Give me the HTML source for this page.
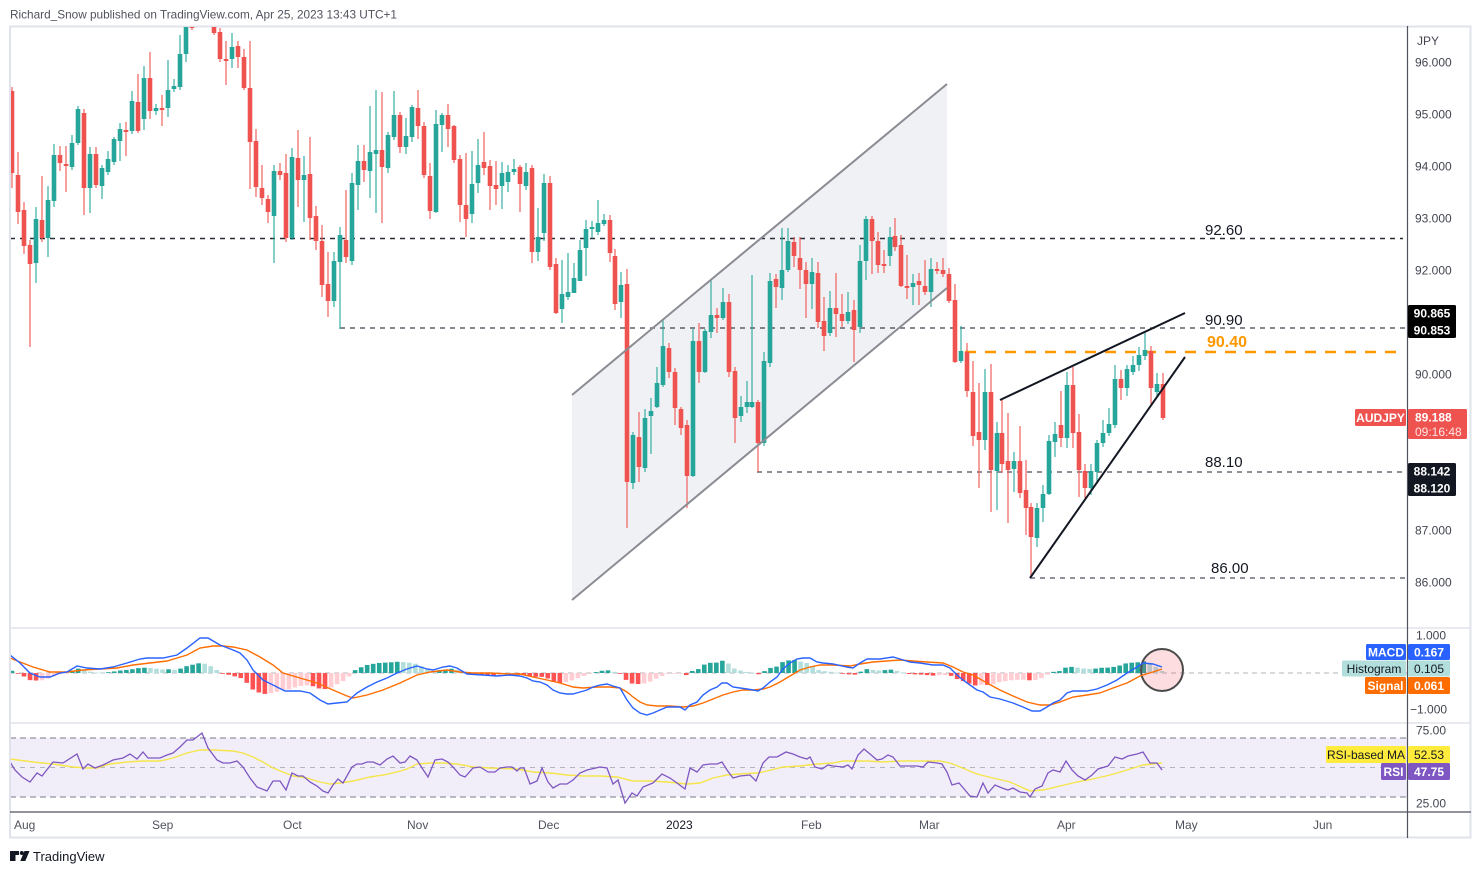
<!DOCTYPE html>
<html><head><meta charset="utf-8"><style>
html,body{margin:0;padding:0;background:#fff;}
svg{display:block;font-family:"Liberation Sans",Arial,sans-serif;}
</style></head><body>
<svg id="s" width="1481" height="874" viewBox="0 0 1481 874" xmlns="http://www.w3.org/2000/svg">
<defs>
<clipPath id="cm"><rect x="11" y="27" width="1396" height="601"/></clipPath>
<clipPath id="cd"><rect x="11" y="629" width="1396" height="94"/></clipPath>
<clipPath id="cr"><rect x="11" y="724" width="1396" height="88"/></clipPath>
</defs>
<rect width="1481" height="874" fill="#fff"/>
<text x="10" y="18.5" font-size="12" fill="#50535e" textLength="387" lengthAdjust="spacingAndGlyphs">Richard_Snow published on TradingView.com, Apr 25, 2023 13:43 UTC+1</text>

<rect x="10" y="26.5" width="1460.5" height="811" fill="none" stroke="#e0e3eb" stroke-width="2"/>
<line x1="10" y1="628" x2="1471" y2="628" stroke="#e0e3eb" stroke-width="1.5"/>
<line x1="10" y1="723" x2="1471" y2="723" stroke="#e0e3eb" stroke-width="1.5"/>

<g clip-path="url(#cm)">
<polygon points="572,395 947,84 947,288 572,600" fill="#f0f1f4"/>
<line x1="10" y1="238.5" x2="1403" y2="238.5" stroke="#2a2e39" stroke-width="1.5" stroke-dasharray="5 5"/>
<line x1="340" y1="328" x2="1405" y2="328" stroke="#5d606b" stroke-width="1.5" stroke-dasharray="5 5"/>
<line x1="757" y1="472" x2="1405" y2="472" stroke="#6a6d78" stroke-width="1.5" stroke-dasharray="5 5"/>
<line x1="1030" y1="578" x2="1405" y2="578" stroke="#6a6d78" stroke-width="1.5" stroke-dasharray="5 5"/>
<line x1="965" y1="352" x2="1405" y2="352" stroke="#ff9800" stroke-width="2.5" stroke-dasharray="11 9"/>

<path fill="none" stroke="#26a69a" stroke-width="1.1" d="M36 207V283 M48 186V257 M54 144V207 M72 135V170 M78 106V145 M90 147V213 M102 165V199 M108 151V175 M114 137V165 M120 123V161 M132 91V134 M144 66V130 M156 104V115 M168 60V117 M174 79V92 M180 35V90 M186 10V62 M232 33V68 M274 165V263 M292 148V240 M304 156V222 M334 252V307 M340 227V329 M352 173V265 M358 145V210 M370 106V198 M376 90V213 M388 132V173 M394 91V140 M406 118V154 M412 105V142 M436 110V213 M442 113V152 M472 151V223 M478 139V193 M502 162V209 M508 165V192 M514 159V175 M526 163V190 M538 208V261 M544 174V241 M562 260V323 M568 253V300 M574 263V289 M580 240V276 M586 220V276 M592 221V238 M598 200V235 M604 214V226 M621 272V318 M633 432V489 M645 409V472 M651 398V454 M657 367V408 M663 319V387 M693 329V477 M705 329V373 M711 280V338 M723 288V320 M741 396V422 M747 381V413 M752 275V408 M764 352V446 M770 273V367 M782 228V300 M788 228V272 M812 258V309 M830 291V336 M848 292V324 M860 245V333 M866 216V280 M890 227V266 M913 274V305 M931 258V307 M961 326V363 M985 369V450 M997 422V510 M1014 452V492 M1037 503V547 M1043 485V522 M1049 435V495 M1055 422V457 M1067 372V448 M1091 464V495 M1097 440V483 M1103 420V447 M1109 408V436 M1115 365V428 M1127 365V396 M1133 356V375 M1139 347V371 M1145 333V360 M1157 373V398"/>
<path fill="none" stroke="#26a69a" stroke-width="4.6" d="M36 263V219 M48 238V200 M54 201V155 M72 167V143 M78 143V109 M90 188V154 M102 186V168 M108 172V159 M114 162V139 M120 141V129 M132 131V101 M144 119V78 M156 111V108 M168 108V90 M174 89V86 M180 87V54 M186 54V20 M232 59V47 M274 216V171 M292 238V157 M304 180V175 M334 301V261 M340 262V235 M352 261V183 M358 185V161 M370 171V152 M376 154V150 M388 168V135 M394 137V115 M406 147V136 M412 137V107 M436 212V124 M442 125V115 M472 214V184 M478 183V165 M502 186V173 M508 182V172 M514 172V169 M526 186V172 M538 252V237 M544 233V183 M562 309V294 M568 297V292 M574 293V278 M580 281V250 M586 248V229 M592 229V227 M598 232V223 M604 224V220 M621 302V285 M633 483V435 M645 468V418 M651 416V411 M657 407V383 M663 385V346 M693 476V341 M705 372V331 M711 332V315 M723 318V302 M741 416V407 M747 407V402 M752 407V402 M764 443V361 M770 363V281 M782 288V270 M788 270V241 M812 284V272 M830 333V308 M848 321V312 M860 327V261 M866 261V219 M890 256V237 M913 287V283 M931 292V269 M961 361V351 M985 440V392 M997 471V433 M1014 469V461 M1037 538V508 M1043 508V494 M1049 494V441 M1055 442V434 M1067 438V385 M1091 488V471 M1097 472V443 M1103 443V433 M1109 433V424 M1115 425V379 M1127 388V369 M1133 372V365 M1139 365V355 M1145 356V350 M1157 392V384"/>
<path fill="none" stroke="#ef5350" stroke-width="1.1" d="M12 87V188 M18 152V224 M24 202V254 M30 240V347 M42 176V242 M60 146V171 M66 146V192 M84 109V215 M96 147V188 M126 122V156 M138 74V133 M150 52V119 M162 95V126 M192 5V30 M214 8V35 M220 28V62 M226 41V85 M238 41V68 M244 49V90 M250 41V189 M256 129V197 M262 165V205 M268 195V223 M280 163V180 M286 154V242 M298 130V207 M310 137V240 M316 206V250 M322 225V297 M328 252V317 M346 190V263 M364 145V182 M382 92V223 M400 112V153 M418 90V139 M424 122V178 M430 163V219 M448 104V147 M454 125V163 M460 155V222 M466 153V237 M484 132V175 M490 160V210 M496 161V205 M520 165V212 M532 165V263 M550 176V270 M556 258V314 M610 215V262 M615 249V310 M627 269V528 M639 412V482 M669 343V378 M675 368V425 M681 407V435 M687 420V508 M699 323V383 M717 308V333 M729 294V377 M735 367V443 M758 400V472 M776 274V308 M794 237V267 M800 237V289 M806 262V318 M818 262V328 M824 297V351 M836 273V337 M842 294V327 M854 300V362 M872 216V274 M878 232V273 M884 250V273 M895 218V251 M901 235V287 M907 255V299 M919 273V305 M925 260V295 M937 262V274 M943 258V277 M949 268V303 M955 284V363 M967 343V397 M973 361V446 M979 383V488 M991 364V512 M1002 399V473 M1008 413V523 M1020 426V498 M1026 460V535 M1031 503V578 M1061 391V447 M1073 367V448 M1079 414V497 M1085 464V498 M1121 370V400 M1151 346V404 M1163 373V420"/>
<path fill="none" stroke="#ef5350" stroke-width="4.6" d="M12 91V173 M18 175V212 M24 210V246 M30 245V264 M42 220V238 M60 155V163 M66 164V166 M84 113V188 M96 154V185 M126 130V132 M138 102V131 M150 78V111 M162 108V110 M192 12V28 M214 15V33 M220 32V59 M226 59V61 M238 46V57 M244 57V88 M250 88V142 M256 141V187 M262 188V198 M268 199V212 M280 171V175 M286 173V238 M298 158V180 M310 174V218 M316 216V241 M322 241V285 M328 284V301 M346 240V257 M364 161V170 M382 150V167 M400 115V147 M418 108V126 M424 126V175 M430 176V211 M448 115V129 M454 126V160 M460 159V205 M466 205V219 M484 162V168 M490 166V186 M496 185V189 M520 167V184 M532 168V252 M550 183V267 M556 264V313 M610 220V253 M615 256V304 M627 284V482 M639 437V467 M669 348V372 M675 372V408 M681 409V428 M687 425V476 M699 341V372 M717 315V318 M729 302V372 M735 371V418 M758 402V443 M776 279V287 M794 242V256 M800 258V270 M806 270V284 M818 273V322 M824 321V336 M836 308V314 M842 314V321 M854 310V330 M872 219V241 M878 241V265 M884 264V266 M895 236V247 M901 245V286 M907 286V288 M919 281V285 M925 286V292 M937 269V271 M943 270V274 M949 274V301 M955 300V362 M967 352V391 M973 392V436 M979 432V440 M991 392V470 M1002 433V464 M1008 461V470 M1020 461V493 M1026 490V508 M1031 507V537 M1061 425V438 M1073 385V433 M1079 432V470 M1085 471V488 M1121 379V388 M1151 351V388 M1163 384V418"/>

<line x1="572" y1="395" x2="947" y2="84" stroke="#8b8b93" stroke-width="2"/>
<line x1="572" y1="600" x2="947" y2="288" stroke="#8b8b93" stroke-width="2"/>
<line x1="1000" y1="400" x2="1185" y2="313" stroke="#131722" stroke-width="2"/>
<line x1="1030" y1="578" x2="1185" y2="357" stroke="#131722" stroke-width="2"/>
<g font-size="15" fill="#131722">
<text x="1205" y="235">92.60</text>
<text x="1205" y="325">90.90</text>
<text x="1205" y="467">88.10</text>
<text x="1211" y="573">86.00</text>
</g>
<text x="1207" y="347" font-size="16" font-weight="bold" fill="#ff9800">90.40</text>
</g>

<g clip-path="url(#cd)">
<line x1="10" y1="673" x2="1407" y2="673" stroke="#b2b5be" stroke-width="1" stroke-dasharray="5 4"/>
<g id="hist"></g>
<circle cx="1162" cy="670" r="21" fill="#f23645" fill-opacity="0.17" stroke="#4a4a4a" stroke-width="2"/>
<polyline id="sig" fill="none" stroke="#ff6d00" stroke-width="1.4" points="10,658 20,662 33,667 50,672 67,672 83,670 100,669 117,668 133,665 150,663 167,661 177,658 187,655 200,648 213,646 223,646 233,647 247,650 260,657 273,665 283,673 300,678 317,683 333,690 347,696 353,698 367,695 383,690 400,683 417,675 430,672 447,670 460,672 473,673 490,673 510,674 520,674 533,677 547,680 560,683 573,687 583,688 597,687 610,687 620,688 627,692 633,697 640,702 647,705 657,706 670,706 683,707 693,706 703,703 713,699 723,695 733,692 743,690 753,690 763,689 770,687 780,682 790,676 800,670 810,667 820,665 833,665 850,666 860,664 873,662 887,661 900,660 913,661 927,662 943,663 953,667 963,672 973,675 987,683 1000,690 1013,696 1027,702 1040,705 1050,705 1060,702 1073,697 1087,695 1100,693 1113,688 1127,683 1140,676 1153,672 1162,669"/>
<polyline id="macd" fill="none" stroke="#2962ff" stroke-width="1.4" points="10,655 20,663 30,673 40,677 50,677 60,673 67,672 77,666 87,668 100,669 113,667 127,663 140,659 147,658 163,658 177,655 187,648 200,638 208,638 220,645 233,650 240,653 247,660 253,670 263,680 273,685 285,691 300,691 310,693 320,700 328,704 337,703 347,702 357,693 367,687 377,682 387,678 397,673 407,669 417,666 427,669 433,670 443,667 450,666 457,668 467,674 483,675 497,676 510,675 520,676 527,678 533,681 540,682 547,685 553,690 560,693 567,694 573,694 580,692 587,690 593,687 600,685 607,684 613,686 620,688 627,700 633,708 640,713 647,715 653,713 660,710 667,707 673,707 680,707 685,710 690,705 697,702 703,695 710,690 717,687 722,683 727,683 733,687 740,688 747,689 753,690 758,691 763,688 770,682 777,677 783,669 790,663 797,659 803,658 810,658 817,662 823,663 833,664 847,667 853,668 860,663 867,659 880,659 893,657 900,659 910,662 920,663 933,665 943,665 950,668 957,675 963,680 970,685 977,690 983,692 990,697 1000,699 1013,703 1023,707 1032,711 1040,711 1047,707 1053,703 1060,700 1067,693 1073,691 1087,691 1097,689 1107,685 1117,680 1127,673 1137,667 1143,663 1153,664 1162,667"/>
</g>

<g clip-path="url(#cr)">
<rect x="10" y="738" width="1397" height="59" fill="#f2eef9"/>
<line x1="10" y1="738" x2="1407" y2="738" stroke="#787b86" stroke-width="1" stroke-dasharray="6 4"/>
<line x1="10" y1="797" x2="1407" y2="797" stroke="#787b86" stroke-width="1" stroke-dasharray="6 4"/>
<line x1="10" y1="767.5" x2="1407" y2="767.5" stroke="#b2b5be" stroke-width="1" stroke-dasharray="5 5"/>
<polyline fill="none" stroke="#f5e54a" stroke-width="1.4" points="10,759 33,762 53,764 73,767 87,768 97,768 110,764 127,762 143,761 160,761 173,758 187,753 200,750 213,750 233,751 243,753 253,757 263,762 273,768 283,772 293,776 307,778 320,782 330,784 340,783 353,781 370,777 383,775 397,772 407,769 417,764 430,763 443,763 457,764 473,767 490,768 517,769 533,772 550,773 567,775 583,776 600,776 617,777 633,781 650,781 667,782 677,783 687,784 700,783 713,778 727,775 740,774 757,773 767,771 783,767 800,766 817,764 833,763 843,761 867,761 883,762 900,761 930,761 940,761 950,763 960,767 977,774 993,778 1010,782 1030,791 1043,790 1060,786 1077,782 1093,779 1110,775 1127,770 1143,765 1153,764 1162,763"/>
<polyline fill="none" stroke="#7e57c2" stroke-width="1.3" points="10,762 15,770 22,777 30,782 37,773 42,776 53,762 63,763 77,754 83,769 88,764 95,768 103,765 113,760 123,758 130,754 137,759 143,752 148,758 160,758 167,755 173,753 180,747 187,740 193,740 202,733 208,748 217,760 223,763 230,763 237,761 243,767 250,778 257,787 267,791 273,781 280,781 286,790 292,773 298,776 303,776 310,782 317,786 323,791 328,793 333,785 338,779 343,783 352,767 357,764 362,764 367,762 373,762 380,765 387,759 393,756 400,763 405,762 410,756 417,760 422,768 428,777 435,760 442,759 448,762 453,767 460,775 465,777 473,768 480,767 488,772 495,772 500,768 507,767 512,767 517,771 520,768 524,768 530,784 537,781 542,768 548,782 553,788 560,784 567,784 573,780 580,773 587,770 600,767 607,768 613,784 618,780 625,803 632,793 637,796 643,787 653,783 662,774 670,778 677,783 685,789 690,768 697,772 703,765 710,764 717,764 722,762 727,770 733,778 740,776 750,775 756,781 763,763 769,757 777,757 786,752 793,754 800,757 807,759 810,757 815,767 822,769 828,765 833,766 843,767 848,765 852,769 858,755 864,749 870,754 877,760 882,759 888,755 893,757 900,766 910,766 917,766 923,767 928,762 937,763 942,764 947,772 952,785 959,783 965,790 970,796 977,797 983,783 988,793 995,785 1002,788 1008,790 1013,788 1020,792 1027,793 1030,797 1035,789 1042,786 1048,773 1053,770 1060,772 1066,761 1072,770 1078,776 1085,780 1092,775 1098,769 1108,766 1115,757 1122,759 1128,756 1137,754 1143,752 1150,763 1157,763 1162,770"/>
</g>

<line x1="10" y1="812" x2="1471" y2="812" stroke="#50535e" stroke-width="1.2"/>
<line x1="1407.5" y1="26" x2="1407.5" y2="838" stroke="#50535e" stroke-width="1.2"/>

<g font-size="12" fill="#434651">
<text x="1417" y="45">JPY</text>
<text x="1415" y="66.5">96.000</text>
<text x="1415" y="118.5">95.000</text>
<text x="1415" y="170.5">94.000</text>
<text x="1415" y="222.5">93.000</text>
<text x="1415" y="274.5">92.000</text>
<text x="1415" y="378.5">90.000</text>
<text x="1415" y="534.5">87.000</text>
<text x="1415" y="586.5">86.000</text>
<text x="1416" y="639.5">1.000</text>
<text x="1410" y="713.5">−1.000</text>
<text x="1416" y="734.5">75.00</text>
<text x="1416" y="807.5">25.00</text>
</g>

<rect x="1408" y="305" width="48" height="33" rx="1.5" fill="#000"/>
<g font-size="12" font-weight="bold" fill="#fff">
<text x="1432" y="317.5" text-anchor="middle">90.865</text>
<text x="1432" y="334.5" text-anchor="middle">90.853</text>
</g>
<rect x="1408" y="463" width="48" height="33" rx="1.5" fill="#131722"/>
<g font-size="12" font-weight="bold" fill="#fff">
<text x="1432" y="475.5" text-anchor="middle">88.142</text>
<text x="1432" y="492.5" text-anchor="middle">88.120</text>
</g>
<rect x="1355" y="409" width="51" height="17" rx="1.5" fill="#ef5350"/>
<text x="1380.5" y="422" font-size="12" font-weight="bold" fill="#fff" text-anchor="middle">AUDJPY</text>
<rect x="1408" y="409" width="59" height="30" rx="1.5" fill="#ef5350"/>
<text x="1415" y="421.5" font-size="12" font-weight="bold" fill="#fff">89.188</text>
<text x="1415" y="436" font-size="12" fill="#fde4e4">09:16:48</text>

<rect x="1366" y="644" width="40" height="16" rx="1.5" fill="#2962ff"/>
<text x="1386" y="656.5" font-size="12" font-weight="bold" fill="#fff" text-anchor="middle">MACD</text>
<rect x="1408" y="644" width="42" height="16" rx="1.5" fill="#2962ff"/>
<text x="1429" y="656.5" font-size="12" font-weight="bold" fill="#fff" text-anchor="middle">0.167</text>
<rect x="1342" y="660.5" width="64" height="16" rx="1.5" fill="#b2dfdb"/>
<text x="1374" y="673" font-size="12" fill="#131722" text-anchor="middle">Histogram</text>
<rect x="1408" y="660.5" width="42" height="16" rx="1.5" fill="#b2dfdb"/>
<text x="1429" y="673" font-size="12" fill="#131722" text-anchor="middle">0.105</text>
<rect x="1365" y="677" width="41" height="17" rx="1.5" fill="#ff6d00"/>
<text x="1385.5" y="690" font-size="12" font-weight="bold" fill="#fff" text-anchor="middle">Signal</text>
<rect x="1408" y="677" width="42" height="17" rx="1.5" fill="#ff6d00"/>
<text x="1429" y="690" font-size="12" font-weight="bold" fill="#fff" text-anchor="middle">0.061</text>

<rect x="1326" y="746" width="80" height="17" rx="1.5" fill="#ffeb3b"/>
<text x="1366" y="759" font-size="12" fill="#131722" text-anchor="middle">RSI-based MA</text>
<rect x="1408" y="746" width="42" height="17" rx="1.5" fill="#ffeb3b"/>
<text x="1429" y="759" font-size="12" fill="#131722" text-anchor="middle">52.53</text>
<rect x="1381" y="763" width="25" height="17" rx="1.5" fill="#7e57c2"/>
<text x="1393.5" y="776" font-size="12" font-weight="bold" fill="#fff" text-anchor="middle">RSI</text>
<rect x="1408" y="763" width="42" height="17" rx="1.5" fill="#7e57c2"/>
<text x="1429" y="776" font-size="12" font-weight="bold" fill="#fff" text-anchor="middle">47.75</text>

<g font-size="12" fill="#50535e">
<text x="14" y="829">Aug</text>
<text x="152" y="829">Sep</text>
<text x="283" y="829">Oct</text>
<text x="407" y="829">Nov</text>
<text x="538" y="829">Dec</text>
<text x="666" y="829" fill="#131722">2023</text>
<text x="801" y="829">Feb</text>
<text x="919" y="829">Mar</text>
<text x="1057" y="829">Apr</text>
<text x="1175" y="829">May</text>
<text x="1313" y="829">Jun</text>
</g>

<path d="M10 851h9v4h-3.5v6h-5.5z" fill="#131722"/>
<circle cx="21.8" cy="853" r="2" fill="#131722"/>
<path d="M24.5 851h5l-4.2 10h-5z" fill="#131722"/>
<text x="33" y="861" font-size="13" fill="#131722">TradingView</text>
</svg>
<script>
(function(){
var NS='http://www.w3.org/2000/svg';
function pts(id){return document.getElementById(id).getAttribute('points').trim().split(/\s+/).map(function(p){return p.split(',').map(Number);});}
function interp(P,x){if(x<=P[0][0])return P[0][1];for(var i=1;i<P.length;i++){if(x<=P[i][0]){var a=P[i-1],b=P[i];return a[1]+(b[1]-a[1])*(x-a[0])/(b[0]-a[0]);}}return P[P.length-1][1];}
var M=pts('macd'),S=pts('sig');var prev=0;var Z=673;var g=document.getElementById('hist');
for(var j=0;j<192;j++){var x=12+j*6.02;var v=interp(S,x)-interp(M,x);var cl;
if(v>=0)cl=(v>=prev)?'#26a69a':'#b2dfdb';else cl=(v<prev)?'#ff5252':'#ffcdd2';prev=v;
var y=v>=0?Z-v:Z;var r=document.createElementNS(NS,'rect');
r.setAttribute('x',(x-2.3).toFixed(2));r.setAttribute('y',y.toFixed(2));r.setAttribute('width','4.6');
r.setAttribute('height',Math.max(Math.abs(v),0.8).toFixed(2));r.setAttribute('fill',cl);g.appendChild(r);}
})();
</script>
</body></html>
